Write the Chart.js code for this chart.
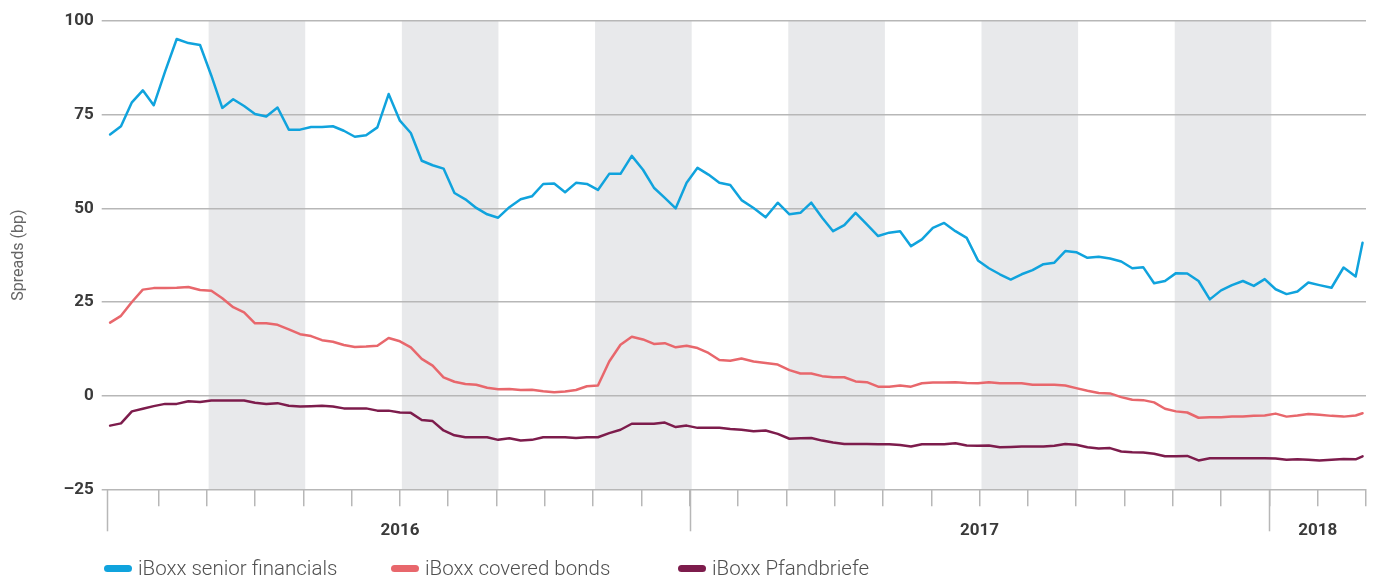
<!DOCTYPE html>
<html>
<head>
<meta charset="utf-8">
<script src="https://cdn.jsdelivr.net/npm/chart.js@4.4.1/dist/chart.umd.min.js"></script>
<style>
  html, body { margin: 0; padding: 0; background: #fff; }
  #wrap { position: relative; width: 1375px; height: 578px; }
  #legend { position: absolute; left: 104px; top: 556px; display: flex; font-family: Roboto, sans-serif; font-weight: 300; font-size: 20.5px; color: #505050; }
  #legend .item { width: 287px; display: flex; align-items: center; white-space: nowrap; }
  #legend .pill { width: 28px; height: 7px; border-radius: 4px; margin-right: 6px; }
</style>
</head>
<body>
<div id="wrap">
  <canvas id="spreadChart" width="1375" height="578"></canvas>
  <div id="legend"></div>
</div>
<script>
// weekly observations (Fridays) plus the last print
const weekDates = [
  '2016-01-01','2016-01-08','2016-01-15','2016-01-22','2016-01-29','2016-02-05','2016-02-12','2016-02-19','2016-02-26',
  '2016-03-04','2016-03-11','2016-03-18','2016-03-25','2016-04-01','2016-04-08','2016-04-15','2016-04-22','2016-04-29',
  '2016-05-06','2016-05-13','2016-05-20','2016-05-27','2016-06-03','2016-06-10','2016-06-17','2016-06-24',
  '2016-07-01','2016-07-08','2016-07-15','2016-07-22','2016-07-29','2016-08-05','2016-08-12','2016-08-19','2016-08-26',
  '2016-09-02','2016-09-09','2016-09-16','2016-09-23','2016-09-30','2016-10-07','2016-10-14','2016-10-21','2016-10-28',
  '2016-11-04','2016-11-11','2016-11-18','2016-11-25','2016-12-02','2016-12-09','2016-12-16','2016-12-23','2016-12-30',
  '2017-01-06','2017-01-13','2017-01-20','2017-01-27','2017-02-03','2017-02-10','2017-02-17','2017-02-24',
  '2017-03-03','2017-03-10','2017-03-17','2017-03-24','2017-03-31','2017-04-07','2017-04-14','2017-04-21','2017-04-28',
  '2017-05-05','2017-05-12','2017-05-19','2017-05-26','2017-06-02','2017-06-09','2017-06-16','2017-06-23','2017-06-30',
  '2017-07-07','2017-07-14','2017-07-21','2017-07-28','2017-08-04','2017-08-11','2017-08-18','2017-08-25',
  '2017-09-01','2017-09-08','2017-09-15','2017-09-22','2017-09-29','2017-10-06','2017-10-13','2017-10-20','2017-10-27',
  '2017-11-03','2017-11-10','2017-11-17','2017-11-24','2017-12-01','2017-12-08','2017-12-15','2017-12-22','2017-12-29',
  '2018-01-05','2018-01-12','2018-01-19','2018-01-26','2018-02-02','2018-02-09','2018-02-16','2018-02-23','2018-02-27'
];

const seniorFinancials = [
  69.7, 71.9, 78.3, 81.5, 77.5, 86.5, 95.2, 94.1, 93.6,
  85.4, 76.8, 79.1, 77.3, 75.2, 74.5, 76.9, 71.0, 71.0,
  71.7, 71.7, 71.9, 70.7, 69.1, 69.5, 71.6, 80.5,
  73.4, 70.1, 62.7, 61.5, 60.6, 54.1, 52.4, 50.1, 48.4,
  47.5, 50.3, 52.4, 53.2, 56.5, 56.6, 54.3, 56.8, 56.5,
  54.9, 59.2, 59.2, 64.0, 60.3, 55.5, 52.8, 50.0, 56.8,
  60.8, 59.0, 56.8, 56.2, 52.2, 50.1, 47.6, 51.5,
  48.4, 48.8, 51.5, 47.5, 43.9, 45.5, 48.8, 45.7, 42.6,
  43.5, 43.9, 39.9, 41.7, 44.8, 46.1, 43.9, 42.1, 36.1,
  34.0, 32.4, 31.0, 32.4, 33.5, 35.1, 35.5, 38.6,
  38.3, 36.8, 37.1, 36.6, 35.8, 34.0, 34.3, 30.0, 30.6,
  32.7, 32.6, 30.6, 25.7, 28.1, 29.5, 30.6, 29.3, 31.1,
  28.4, 27.1, 27.8, 30.2, 29.5, 28.8, 34.2, 31.8, 40.8
];

const coveredBonds = [
  19.5, 21.3, 25.0, 28.3, 28.7, 28.7, 28.8, 29.0, 28.2,
  28.0, 26.0, 23.6, 22.2, 19.3, 19.3, 18.9, 17.7, 16.4,
  15.9, 14.8, 14.4, 13.5, 13.0, 13.1, 13.3, 15.4,
  14.5, 12.9, 9.8, 8.0, 4.9, 3.7, 3.1, 2.9, 2.1,
  1.7, 1.8, 1.5, 1.6, 1.2, 0.9, 1.1, 1.5, 2.5,
  2.7, 9.1, 13.6, 15.7, 15.0, 13.8, 14.0, 12.9, 13.3,
  12.7, 11.4, 9.5, 9.3, 9.9, 9.1, 8.7, 8.3,
  6.8, 5.9, 5.9, 5.2, 4.9, 4.9, 3.8, 3.6, 2.4,
  2.4, 2.7, 2.4, 3.3, 3.5, 3.5, 3.6, 3.4, 3.3,
  3.6, 3.3, 3.3, 3.3, 2.9, 2.9, 2.9, 2.7,
  2.0, 1.3, 0.7, 0.6, -0.4, -1.1, -1.2, -1.8, -3.5,
  -4.2, -4.5, -5.9, -5.8, -5.8, -5.6, -5.6, -5.4, -5.3,
  -4.8, -5.6, -5.3, -4.9, -5.1, -5.4, -5.6, -5.3, -4.7
];

const pfandbriefe = [
  -8.0, -7.4, -4.2, -3.5, -2.8, -2.2, -2.2, -1.5, -1.7,
  -1.3, -1.3, -1.3, -1.3, -1.9, -2.2, -2.0, -2.7, -2.9,
  -2.8, -2.7, -2.9, -3.4, -3.4, -3.4, -4.0, -4.0,
  -4.5, -4.6, -6.5, -6.8, -9.3, -10.6, -11.1, -11.1, -11.1,
  -11.8, -11.4, -12.0, -11.8, -11.1, -11.1, -11.1, -11.3, -11.1,
  -11.1, -10.0, -9.1, -7.5, -7.5, -7.5, -7.2, -8.4, -8.0,
  -8.6, -8.6, -8.6, -8.9, -9.1, -9.5, -9.3, -10.2,
  -11.5, -11.4, -11.3, -12.0, -12.5, -12.9, -12.9, -12.9, -13.0,
  -13.0, -13.2, -13.6, -13.0, -13.0, -13.0, -12.7, -13.3, -13.4,
  -13.3, -13.8, -13.7, -13.6, -13.6, -13.6, -13.4, -12.9,
  -13.1, -13.8, -14.1, -14.0, -14.9, -15.1, -15.2, -15.5, -16.2,
  -16.2, -16.1, -17.3, -16.7, -16.7, -16.7, -16.7, -16.7, -16.7,
  -16.8, -17.1, -17.0, -17.1, -17.3, -17.1, -16.9, -17.0, -16.2
];

const yearLabels = ['2016', '2017', '2018'];
const yearBounds = [0, 12, 24, 26];          // month index where each year starts / axis end
const shadedStarts = [2, 6, 10, 14, 18, 22]; // two-month grey bands
const yTicks = [-25, 0, 25, 50, 75, 100];

const GRID = '#b7b7b7';
const X_MIN = -0.07;
const X_MAX = 26;

// month index: 0 = 1 Jan 2016, every month gets the same width
function monthPos(s) {
  const [y, m, d] = s.split('-').map(Number);
  const dim = new Date(y, m, 0).getDate();
  return (y - 2016) * 12 + (m - 1) + (d - 1) / dim;
}

function toPoints(values) {
  return values.map((v, i) => ({ x: monthPos(weekDates[i]), y: v }));
}

// grey bands behind the grid
const bandsPlugin = {
  id: 'bands',
  beforeDraw(chart) {
    const { ctx, chartArea } = chart;
    const x = chart.scales.x;
    ctx.save();
    ctx.fillStyle = '#e8e9eb';
    shadedStarts.forEach(s => {
      const x1 = x.getPixelForValue(s + 0.04);
      const x2 = x.getPixelForValue(s + 2.04);
      ctx.fillRect(x1, chartArea.top, x2 - x1, chartArea.bottom - chartArea.top);
    });
    ctx.restore();
  }
};

// longer ticks at the year breaks
const yearTicksPlugin = {
  id: 'yearTicks',
  afterDraw(chart) {
    const { ctx, chartArea } = chart;
    const x = chart.scales.x;
    ctx.save();
    ctx.strokeStyle = GRID;
    ctx.lineWidth = 1.5;
    [X_MIN, yearBounds[1], yearBounds[2]].forEach(v => {
      const px = Math.round(x.getPixelForValue(v)) + 0.5;
      ctx.beginPath();
      ctx.moveTo(px, chartArea.bottom);
      ctx.lineTo(px, chartArea.bottom + 42);
      ctx.stroke();
    });
    ctx.restore();
  }
};

const chart = new Chart(document.getElementById('spreadChart'), {
  type: 'line',
  data: {
    datasets: [
      { label: 'iBoxx senior financials', data: toPoints(seniorFinancials), borderColor: '#10a3dd', backgroundColor: '#10a3dd' },
      { label: 'iBoxx covered bonds', data: toPoints(coveredBonds), borderColor: '#e8676c', backgroundColor: '#e8676c' },
      { label: 'iBoxx Pfandbriefe', data: toPoints(pfandbriefe), borderColor: '#7d1c4c', backgroundColor: '#7d1c4c' }
    ]
  },
  options: {
    responsive: false,
    devicePixelRatio: 1,
    animation: false,
    layout: { padding: { top: 21, right: 9, bottom: 31.7, left: 0 } },
    elements: {
      line: { borderWidth: 2.5, tension: 0, borderJoinStyle: 'round', borderCapStyle: 'round' },
      point: { radius: 0 }
    },
    plugins: { legend: { display: false }, tooltip: { enabled: false } },
    scales: {
      x: {
        type: 'linear', position: 'bottom', min: X_MIN, max: X_MAX,
        afterBuildTicks(scale) {
          const t = [];
          for (let m = 1; m <= X_MAX; m++) t.push({ value: m });
          scale.ticks = t;
        },
        afterFit(scale) { scale.height = 17; },
        ticks: { display: false },
        grid: { drawOnChartArea: false, drawTicks: true, tickLength: 17, color: GRID, lineWidth: 1.5 },
        border: { display: false }
      },
      xYear: {
        type: 'linear', position: 'bottom', min: X_MIN, max: X_MAX,
        afterBuildTicks(scale) {
          scale.ticks = yearLabels.map((_, i) => ({ value: (yearBounds[i] + yearBounds[i + 1]) / 2 }));
        },
        afterFit(scale) { scale.height = 40; },
        ticks: {
          callback: (v, i) => yearLabels[i],
          font: { family: 'Roboto', size: 17, weight: 'bold' },
          color: '#3a3a3a',
          padding: 14,
          maxRotation: 0
        },
        grid: { display: false, drawTicks: false },
        border: { display: false }
      },
      y: {
        min: -25, max: 100,
        afterBuildTicks(scale) { scale.ticks = yTicks.map(v => ({ value: v })); },
        afterFit(scale) { scale.width = 106.7; },
        ticks: {
          callback: v => (v < 0 ? '\u2013' + Math.abs(v) : String(v)),
          font: { family: 'Roboto', size: 17, weight: 'bold' },
          color: '#3a3a3a',
          padding: 8
        },
        grid: { color: GRID, lineWidth: 1.5, tickLength: 5 },
        border: { display: false },
        title: {
          display: true,
          text: 'Spreads (bp)',
          font: { family: 'Roboto', size: 16 },
          color: '#666',
          padding: { top: 9, bottom: 0 }
        }
      }
    }
  },
  plugins: [bandsPlugin, yearTicksPlugin]
});

// html legend built from the chart's datasets
const legendEl = document.getElementById('legend');
chart.data.datasets.forEach(ds => {
  const item = document.createElement('div');
  item.className = 'item';
  const pill = document.createElement('span');
  pill.className = 'pill';
  pill.style.background = ds.borderColor;
  const text = document.createElement('span');
  text.textContent = ds.label;
  item.appendChild(pill);
  item.appendChild(text);
  legendEl.appendChild(item);
});
</script>
</body>
</html>
